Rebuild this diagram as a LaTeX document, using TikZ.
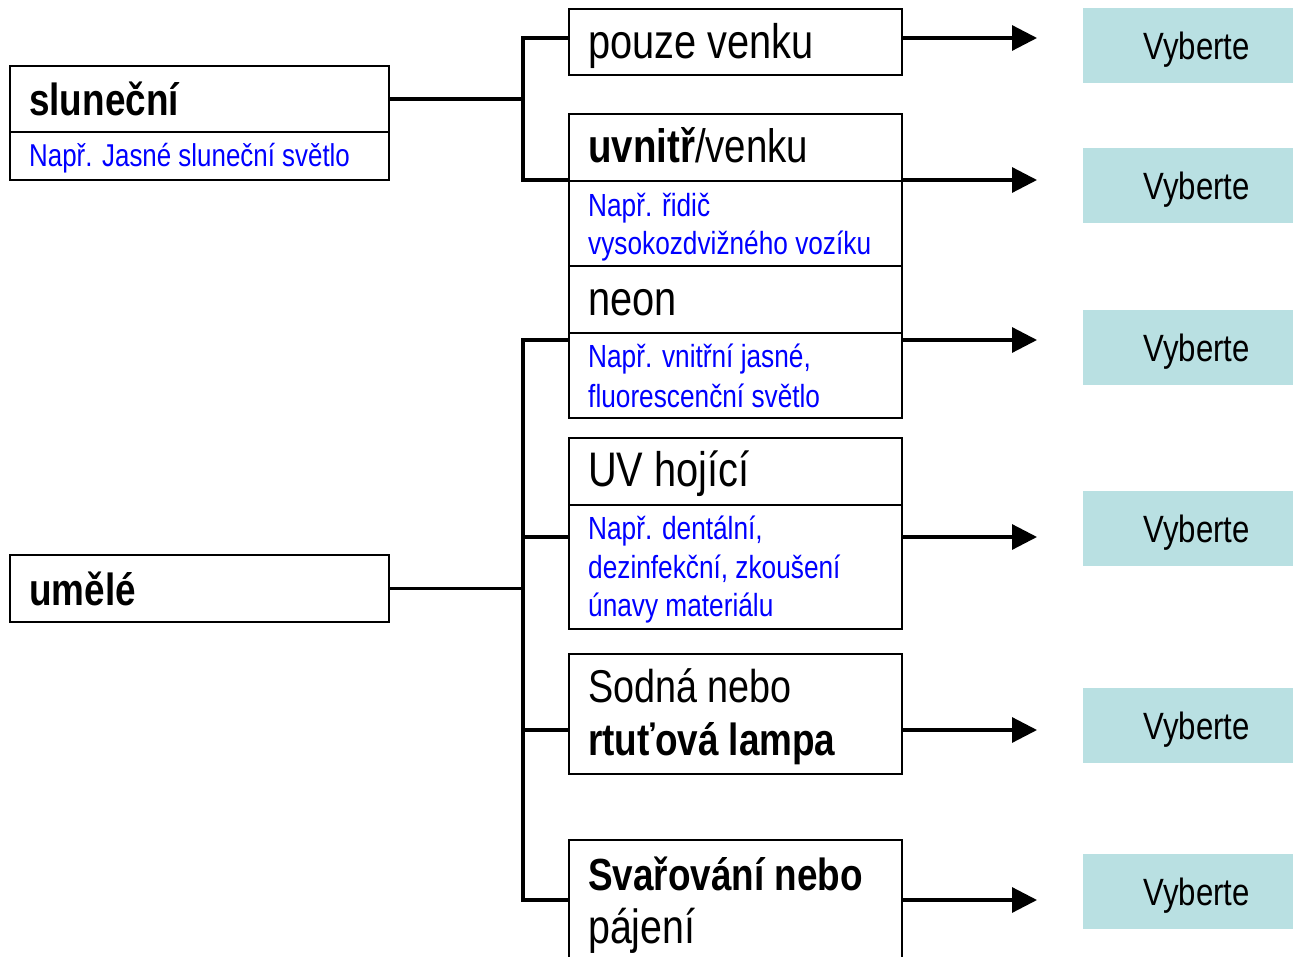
\documentclass[tikz,border=0pt]{standalone}
\usepackage{fontspec}
\setmainfont{Liberation Sans}[FakeStretch=0.82]
\usetikzlibrary{arrows.meta}
\definecolor{pickfill}{RGB}{185,224,226}
\definecolor{notecol}{RGB}{0,0,255}

\tikzset{
  cell/.style={draw, line width=2pt, anchor=north west, inner sep=0pt},
  head/.style={anchor=base west, inner sep=0pt, font=\fontsize{46}{50}\selectfont},
  headbig/.style={head, font=\fontsize{48.5}{52}\selectfont},
  headbold/.style={head, font=\fontsize{45}{50}\selectfont\bfseries},
  notetext/.style={anchor=base west, inner sep=0pt, text=notecol, font=\fontsize{32}{38}\selectfont},
  choice/.style={fill=pickfill, anchor=north west, inner sep=0pt,
    text height=27pt, text depth=0pt,
    minimum width=227pt, minimum height=75pt, font=\fontsize{38}{40}\selectfont},
  conn/.style={line width=3.2pt},
  arr/.style={line width=3.2pt, -{Triangle[length=25pt,width=25pt]}},
}

\begin{document}
\begin{tikzpicture}[x=1pt,y=-1pt]
\clip (0,0) rectangle (1293,957);
\fill[white] (0,0) rectangle (1293,957);

% left column: sources
\node[cell, minimum width=379pt, minimum height=66pt] (sunT) at (9,65) {};
\node[cell, minimum width=379pt, minimum height=48pt] (sunS) at (9,131) {};
\node[cell, minimum width=379pt, minimum height=67pt] (umT) at (9,554) {};
\node[headbold] (sunTx) at (29,116) {sluneční};
\node[notetext, font=\fontsize{31.6}{38}\selectfont] (sunSx) at (29,167) {Např. Jasné sluneční světlo};
\node[headbold] (umTx) at (29,605) {umělé};

% middle column: kinds of light
\node[cell, minimum width=333pt, minimum height=66pt] (pv) at (568,8) {};
\node[cell, minimum width=333pt, minimum height=67pt] (uvT) at (568,113) {};
\node[cell, minimum width=333pt, minimum height=85pt] (uvS) at (568,180) {};
\node[cell, minimum width=333pt, minimum height=67pt] (neT) at (568,265) {};
\node[cell, minimum width=333pt, minimum height=85pt] (neS) at (568,332) {};
\node[cell, minimum width=333pt, minimum height=67pt] (uhT) at (568,437) {};
\node[cell, minimum width=333pt, minimum height=124pt] (uhS) at (568,504) {};
\node[cell, minimum width=333pt, minimum height=120pt] (sod) at (568,653) {};
\node[cell, minimum width=333pt, minimum height=150pt] (sva) at (568,839) {};

\node[headbig] (pvx) at (588,59) {pouze venku};
\node[head, font=\fontsize{46.9}{50}\selectfont] (uvTx) at (588,163) {{\bfseries uvnitř}/venku};
\node[notetext] (uvSa) at (588,217) {Např. řidič};
\node[notetext] (uvSb) at (588,255) {vysokozdvižného vozíku};
\node[headbig] (neTx) at (588,316) {neon};
\node[notetext] (neSa) at (588,368) {Např. vnitřní jasné,};
\node[notetext] (neSb) at (588,407) {fluorescenční světlo};
\node[headbig] (uhTx) at (588,486) {UV hojící};
\node[notetext] (uhSa) at (588,539) {Např. dentální,};
\node[notetext] (uhSb) at (588,578) {dezinfekční, zkoušení};
\node[notetext] (uhSc) at (588,616) {únavy materiálu};
\node[head] (soda) at (588,702) {Sodná nebo};
\node[headbold] (sodb) at (588,755) {rtuťová lampa};
\node[headbold] (svaa) at (588,890) {Svařování nebo};
\node[head, font=\fontsize{48}{50}\selectfont] (svab) at (588,943) {pájení};

% right column: selection fields
\node[choice] (c1) at (1083,8) {Vyberte};
\node[choice] (c2) at (1083,148) {Vyberte};
\node[choice] (c3) at (1083,310) {Vyberte};
\node[choice] (c4) at (1083,491) {Vyberte};
\node[choice] (c5) at (1083,688) {Vyberte};
\node[choice] (c6) at (1083,854) {Vyberte};

% tree branches
\coordinate (s1) at (523,38);
\coordinate (s2) at (523,180);
\coordinate (s3) at (523,340);
\coordinate (s4) at (523,537);
\coordinate (s5) at (523,730);
\coordinate (s6) at (523,900);
\draw[conn] (sunT.east) -- (sunT.east -| s1);
\draw[conn] (pv.west |- s1) -- (s1) -- (s2) -- (uvS.north west);
\draw[conn] (umT.east) -- (umT.east -| s3);
\draw[conn] (neS.west |- s3) -- (s3) -- (s6) -- (sva.west |- s6);
\draw[conn] (s4) -- (uhS.west |- s4);
\draw[conn] (s5) -- (sod.west |- s5);

% arrows to the selection fields
\coordinate (t1) at (1037,38);
\coordinate (t2) at (1037,180);
\coordinate (t3) at (1037,340);
\coordinate (t4) at (1037,537);
\coordinate (t5) at (1037,730);
\coordinate (t6) at (1037,900);
\draw[arr] (pv.east |- t1) -- (t1);
\draw[arr] (uvS.east |- t2) -- (t2);
\draw[arr] (neS.east |- t3) -- (t3);
\draw[arr] (uhS.east |- t4) -- (t4);
\draw[arr] (sod.east |- t5) -- (t5);
\draw[arr] (sva.east |- t6) -- (t6);
\end{tikzpicture}
\end{document}
